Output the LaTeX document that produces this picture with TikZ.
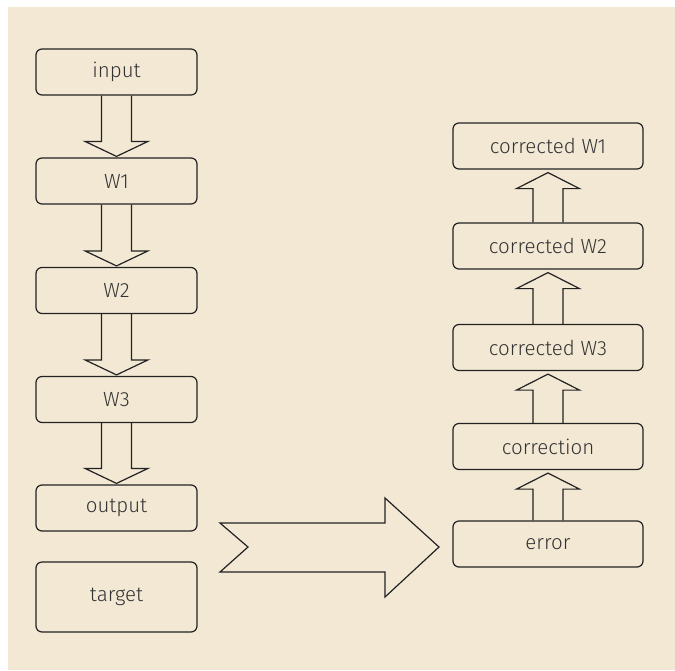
\documentclass[tikz,border=0pt]{standalone}
\usepackage{fontspec}
\setmainfont{Fira Sans Light}
\usetikzlibrary{calc}
\definecolor{bgc}{HTML}{F3E8D4}
\definecolor{linec}{HTML}{222222}
\definecolor{txtc}{HTML}{333333}
\tikzset{
  box/.style={draw=linec, line width=1.2pt, rounded corners=6pt, minimum height=46pt, inner sep=0pt,
    text=txtc, font=\fontsize{20.5}{24}\selectfont},
  lbox/.style={box, minimum width=161pt},
  rbox/.style={box, minimum width=190pt},
  blk/.style={draw=linec, line width=1.2pt, line join=miter},
}
\newcommand\downblk[2]{%
  \draw[blk] ($(#1.south)+(-15,0)$) -- ($(#2.north)+(-15,-16)$) -- ($(#2.north)+(-31.5,-16)$)
    -- ($(#2.north)+(0,-1)$) -- ($(#2.north)+(31.5,-16)$) -- ($(#2.north)+(15,-16)$) -- ($(#1.south)+(15,0)$);}
\newcommand\upblk[2]{%
  \draw[blk] ($(#1.north)+(-15,0)$) -- ($(#2.south)+(-15,19)$) -- ($(#2.south)+(-31.5,19)$)
    -- ($(#2.south)+(0,3)$) -- ($(#2.south)+(31.5,19)$) -- ($(#2.south)+(15,19)$) -- ($(#1.north)+(15,0)$);}
\begin{document}
\begin{tikzpicture}[x=1pt,y=-1pt]
\useasboundingbox (0,0) rectangle (675,670);
\fill[bgc] (8,7) rectangle (675,670);
% left column
\node[lbox] (in) at (116.5,72) {input};
\node[lbox] (w1) at (116.5,181) {W1};
\node[lbox] (w2) at (116.5,290.5) {W2};
\node[lbox] (w3) at (116.5,399.5) {W3};
\node[lbox] (out) at (116.5,508) {output};
\node[lbox, minimum height=70pt] (tgt) at (116.5,597) {target};
% right column
\node[rbox] (c1) at (548,146) {corrected W1};
\node[rbox] (c2) at (548,246) {corrected W2};
\node[rbox] (c3) at (548,347.5) {corrected W3};
\node[rbox] (cor) at (548,446.5) {correction};
\node[rbox] (err) at (548,544) {error};
% arrows
\downblk{in}{w1}
\downblk{w1}{w2}
\downblk{w2}{w3}
\downblk{w3}{out}
\upblk{c2}{c1}
\upblk{c3}{c2}
\upblk{cor}{c3}
\upblk{err}{cor}
% big arrow
\draw[blk] (220,523) -- (385,523) -- (385,498) -- (439,547) -- (385,597) -- (385,572) -- (220,572) -- (248,547) -- cycle;
\end{tikzpicture}
\end{document}
